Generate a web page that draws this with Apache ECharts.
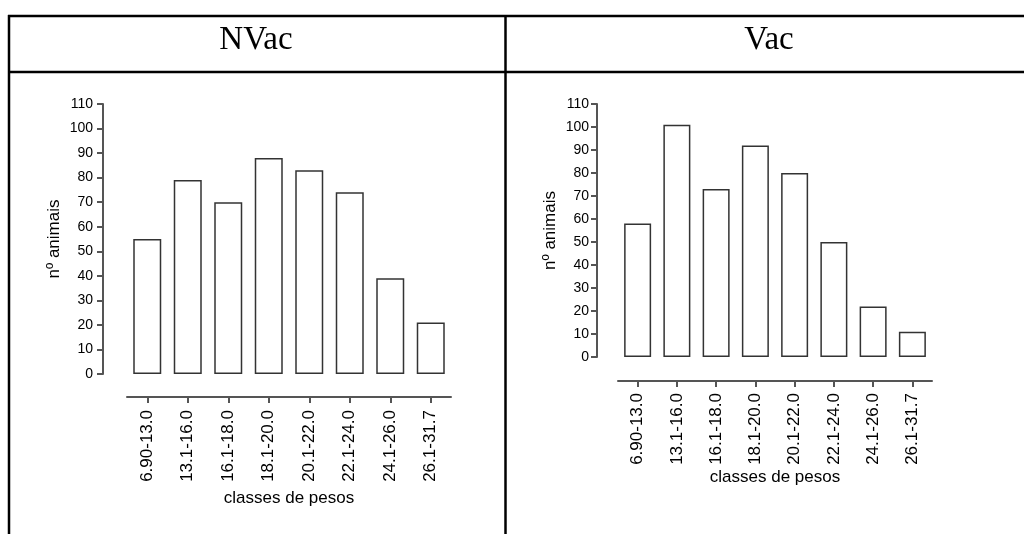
<!DOCTYPE html>
<html>
<head>
<meta charset="utf-8">
<script src="https://cdn.jsdelivr.net/npm/echarts@6/dist/echarts.min.js"></script>
<style>
  html, body { margin: 0; padding: 0; background: #fff; }
  #main { width: 1024px; height: 534px; }
</style>
</head>
<body>
<div id="main"></div>
<script>
// classes de pesos (categorias)
const classes = ['6.90-13.0', '13.1-16.0', '16.1-18.0', '18.1-20.0', '20.1-22.0', '22.1-24.0', '24.1-26.0', '26.1-31.7'];
// nº animais
const nvac = [55, 79, 70, 88, 83, 74, 39, 21];
const vac = [58, 101, 73, 92, 80, 50, 22, 11];
const yTicks = { min: 0, max: 110, interval: 10 };

const chart = echarts.init(document.getElementById('main'));

const axisColor = '#555';
const txt = '#000';
const sans = 'Liberation Sans, Arial';
const serif = 'Liberation Serif, Times New Roman, serif';

function xAx(gridIndex, offset, labelMargin, nameGap) {
  return {
    type: 'category',
    gridIndex: gridIndex,
    data: classes,
    offset: offset,
    name: 'classes de pesos',
    nameLocation: 'middle',
    nameGap: nameGap,
    nameTextStyle: { color: txt, fontSize: 17, fontFamily: sans },
    axisLine: { show: true, onZero: false, lineStyle: { color: axisColor, width: 2 } },
    axisTick: { show: true, alignWithLabel: true, length: 6, lineStyle: { color: axisColor, width: 2 } },
    axisLabel: { rotate: 90, margin: labelMargin, color: txt, fontSize: 17, fontFamily: sans },
    splitLine: { show: false }
  };
}

function yAx(gridIndex, offset, labelMargin, nameGap) {
  return {
    type: 'value',
    gridIndex: gridIndex,
    min: yTicks.min,
    max: yTicks.max,
    interval: yTicks.interval,
    offset: offset,
    name: 'nº animais',
    nameLocation: 'middle',
    nameGap: nameGap,
    nameTextStyle: { color: txt, fontSize: 17, fontFamily: sans },
    axisLine: { show: true, lineStyle: { color: axisColor, width: 2 } },
    axisTick: { show: true, length: 6, lineStyle: { color: axisColor, width: 2 } },
    axisLabel: { margin: labelMargin, color: txt, fontSize: 14, fontFamily: sans },
    splitLine: { show: false }
  };
}

const barStyle = { color: '#fff', borderColor: '#333', borderWidth: 1.5 };

function titleText(str, x) {
  return {
    type: 'text', x: x, y: 40,
    style: { text: str, fill: txt, font: '33px ' + serif, textAlign: 'center', textVerticalAlign: 'middle' }
  };
}

const option = {
  backgroundColor: '#fff',
  animation: false,
  graphic: [
    { type: 'line', shape: { x1: 8, y1: 16, x2: 1024, y2: 16 }, style: { stroke: '#000', lineWidth: 2.5 } },
    { type: 'line', shape: { x1: 8, y1: 72, x2: 1024, y2: 72 }, style: { stroke: '#000', lineWidth: 2.5 } },
    { type: 'line', shape: { x1: 9, y1: 15, x2: 9, y2: 534 }, style: { stroke: '#000', lineWidth: 2.5 } },
    { type: 'line', shape: { x1: 505.5, y1: 15, x2: 505.5, y2: 534 }, style: { stroke: '#000', lineWidth: 2.5 } },
    titleText('NVac', 256),
    titleText('Vac', 769)
  ],
  grid: [
    { left: 127, top: 104, width: 324, height: 270 },
    { left: 618, top: 104, width: 314, height: 253 }
  ],
  xAxis: [xAx(0, 23, 13, 89), xAx(1, 24, 12, 88)],
  yAxis: [yAx(0, 24, 10, 40), yAx(1, 21, 8, 38)],
  series: [
    { type: 'bar', xAxisIndex: 0, yAxisIndex: 0, data: nvac, barWidth: 28, itemStyle: barStyle },
    { type: 'bar', xAxisIndex: 1, yAxisIndex: 1, data: vac, barWidth: 27, itemStyle: barStyle }
  ]
};

chart.setOption(option);
</script>
</body>
</html>
